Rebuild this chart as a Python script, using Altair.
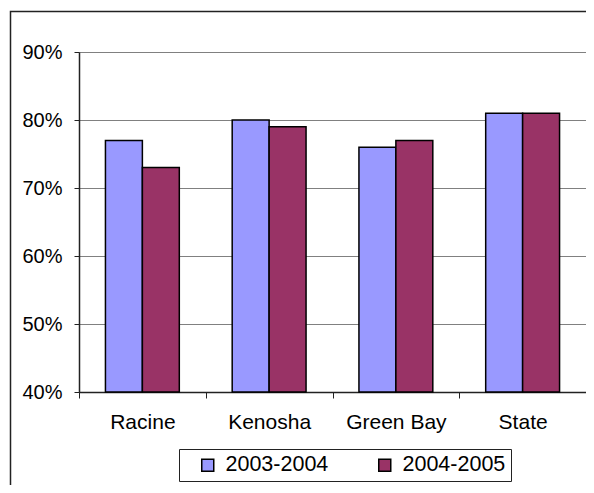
import altair as alt
import pandas as pd

cities = ["Racine", "Kenosha", "Green Bay", "State"]
periods = ["2003-2004", "2004-2005"]
rate_2003_2004 = [0.77, 0.80, 0.76, 0.81]
rate_2004_2005 = [0.73, 0.79, 0.77, 0.81]
y_ticks = [0.4, 0.5, 0.6, 0.7, 0.8, 0.9]

df = pd.DataFrame(
    {
        "city": cities * 2,
        "period": [periods[0]] * 4 + [periods[1]] * 4,
        "rate": rate_2003_2004 + rate_2004_2005,
    }
)

FONT = "Liberation Sans"

# outer chart frame (runs off the right and bottom edge, as in the original)
frame = (
    alt.Chart(pd.DataFrame({"k": [0]}))
    .mark_rect(fill=None, stroke="#222", strokeWidth=1.5)
    .encode(
        x=alt.value(-68.5),
        y=alt.value(-40.5),
        x2=alt.value(800),
        y2=alt.value(800),
    )
)

bars = (
    alt.Chart(df)
    .mark_bar(stroke="black", strokeWidth=1.5)
    .encode(
        x=alt.X(
            "city:N",
            sort=cities,
            title=None,
            scale=alt.Scale(paddingInner=0, paddingOuter=0),
            axis=alt.Axis(
                labelAngle=0,
                tickBand="extent",
                tickSize=6,
                labelPadding=13,
                labelFontSize=21,
                labelColor="black",
                domainColor="#222",
                tickColor="#222",
                domainWidth=1.5,
            ),
        ),
        xOffset=alt.XOffset(
            "period:N", sort=periods, scale=alt.Scale(paddingInner=0, paddingOuter=0.716)
        ),
        y=alt.Y(
            "rate:Q",
            title=None,
            scale=alt.Scale(domain=[0.4, 0.9], zero=False, nice=False),
            axis=alt.Axis(
                values=y_ticks,
                format=".0%",
                tickSize=5,
                labelPadding=12,
                labelFontSize=20,
                labelColor="black",
                gridColor="#808080",
                domainColor="#222",
                tickColor="#222",
                domainWidth=1.5,
            ),
        ),
        y2=alt.datum(0.4),
        color=alt.Color(
            "period:N",
            sort=periods,
            scale=alt.Scale(domain=periods, range=["#9999FF", "#993366"]),
            legend=alt.Legend(
                orient="none",
                legendX=100,
                legendY=397,
                direction="horizontal",
                title="\u00a0",
                titleOrient="left",
                titlePadding=13,
                titleFontSize=21.5,
                padding=5,
                strokeColor="#222",
                fillColor="white",
                labelFontSize=21.5,
                labelColor="black",
                symbolType="square",
                symbolSize=144,
                symbolStrokeColor="black",
                symbolStrokeWidth=1.5,
                labelOffset=7,
                columnPadding=45,
                labelExpr="datum.label == '2004-2005' ? datum.label + '\u00a0\u00a0' : datum.label",
            ),
        ),
    )
)

chart = (
    alt.layer(frame, bars)
    .properties(
        width=507,
        height=340,
        padding={"left": 71, "top": 44, "right": 0, "bottom": 93},
        autosize=alt.AutoSizeParams(type="none"),
    )
    .configure(font=FONT)
    .configure_view(stroke="#808080")
)

chart.save("out.html", embed_options={"renderer": "svg", "actions": False})
